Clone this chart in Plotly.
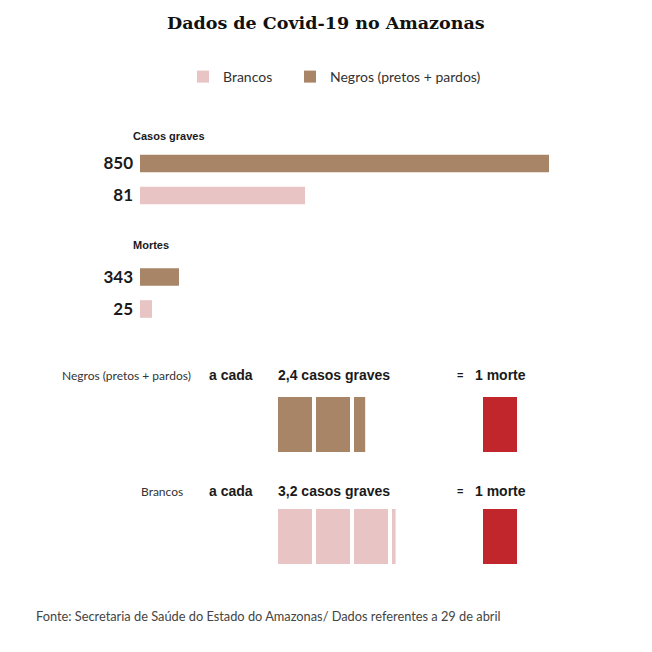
import math
import plotly.graph_objects as go

# page body has an 8px margin: the figure is drawn inside it
OFF = 8
W = H = 636

# ---------------- data ----------------
titulo = "Dados de Covid-19 no Amazonas"
grupos = ["Negros (pretos + pardos)", "Brancos"]
grupos_curto = ["Negros", "Brancos"]
casos_graves = [850, 81]
mortes = [343, 25]
# bar lengths as drawn in the reference graphic (its 81 / 343 bars are swapped)
barra_casos = [850, 343]
barra_mortes = [81, 25]
casos_por_morte = [2.4, 3.2]
casos_por_morte_txt = ["2,4", "3,2"]
mortes_unidade = [1, 1]
fonte = "Fonte: Secretaria de Saúde do Estado do Amazonas/ Dados referentes a 29 de abril"

# ---------------- styles ----------------
BROWN = "#A88566"
PINK = "#E8C4C4"
RED = "#C1262D"
cores = [BROWN, PINK]
SANS = "Lato"
DARK = "#1a1a1a"


def px(x):
    return (x - OFF) / W


def py(y):
    return 1 - (y - OFF) / H


fig = go.Figure()

legendas = ["legend2", "legend"]  # Negros -> right legend, Brancos -> left legend

# top bar charts
for i, g in enumerate(grupos_curto):
    fig.add_trace(go.Bar(
        orientation="h", y=[g], x=[barra_casos[i]], width=0.55,
        marker=dict(color=cores[i], line=dict(width=0)),
        name=grupos[i], showlegend=True, legend=legendas[i],
        xaxis="x", yaxis="y",
        hovertemplate=f"{grupos[i]}<br>Casos graves: {casos_graves[i]}<extra></extra>"))
    fig.add_trace(go.Bar(
        orientation="h", y=[g], x=[barra_mortes[i]], width=0.55,
        marker=dict(color=cores[i], line=dict(width=0)),
        name=grupos[i], showlegend=False,
        xaxis="x2", yaxis="y2",
        hovertemplate=f"{grupos[i]}<br>Mortes: {mortes[i]}<extra></extra>"))

# blocks: cases per death
bx = ["x3", "x4"]
by = ["y3", "y4"]
rx = ["x5", "x6"]
ry = ["y5", "y6"]
for i, g in enumerate(grupos_curto):
    v = casos_por_morte[i]
    n = math.ceil(v)
    unidades = [round(min(1, v - k), 3) for k in range(n)]
    bases = list(range(n))
    fig.add_trace(go.Bar(
        orientation="h", y=[g] * n, x=unidades, base=bases, width=1,
        marker=dict(color=cores[i], line=dict(color="white", width=4)),
        showlegend=False, xaxis=bx[i], yaxis=by[i],
        hovertemplate=f"{grupos[i]}: {casos_por_morte_txt[i]} casos graves<extra></extra>"))
    fig.add_trace(go.Bar(
        orientation="h", y=["morte"], x=[mortes_unidade[i]], base=[0], width=1,
        marker=dict(color=RED, line=dict(color="white", width=4)),
        showlegend=False, xaxis=rx[i], yaxis=ry[i],
        hovertemplate="1 morte<extra></extra>"))

hidden = dict(visible=False, showgrid=False, zeroline=False, fixedrange=True)

xmax = max(barra_casos)
layout_axes = dict(
    xaxis=dict(domain=[px(140), px(549)], range=[0, xmax], anchor="y", **hidden),
    yaxis=dict(domain=[py(211.5), py(147.5)], anchor="x", type="category",
               categoryarray=grupos_curto[::-1], tickmode="array",
               tickvals=grupos_curto, ticktext=[str(v) for v in casos_graves],
               tickfont=dict(family=SANS, size=17, color=DARK, weight="bold"),
               showgrid=False, zeroline=False, showline=False, ticks="",
               ticklabelstandoff=6, fixedrange=True),
    xaxis2=dict(domain=[px(140), px(549)], range=[0, xmax], anchor="y2", **hidden),
    yaxis2=dict(domain=[py(325), py(261)], anchor="x2", type="category",
                categoryarray=grupos_curto[::-1], tickmode="array",
                tickvals=grupos_curto, ticktext=[str(v) for v in mortes],
                tickfont=dict(family=SANS, size=17, color=DARK, weight="bold"),
                showgrid=False, zeroline=False, showline=False, ticks="",
                ticklabelstandoff=6, fixedrange=True),
    xaxis3=dict(domain=[px(276), px(276 + 4 * 38)], range=[0, 4], anchor="y3", **hidden),
    yaxis3=dict(domain=[py(454), py(395)], range=[-0.5, 0.5], anchor="x3", **hidden),
    xaxis4=dict(domain=[px(276), px(276 + 4 * 38)], range=[0, 4], anchor="y4", **hidden),
    yaxis4=dict(domain=[py(566), py(507)], range=[-0.5, 0.5], anchor="x4", **hidden),
    xaxis5=dict(domain=[px(481), px(519)], range=[0, 1], anchor="y5", **hidden),
    yaxis5=dict(domain=[py(454), py(395)], range=[-0.5, 0.5], anchor="x5", **hidden),
    xaxis6=dict(domain=[px(481), px(519)], range=[0, 1], anchor="y6", **hidden),
    yaxis6=dict(domain=[py(566), py(507)], range=[-0.5, 0.5], anchor="x6", **hidden),
)

ann = []


def add_text(text, x, y, size, xanchor="left", weight="normal", color=DARK, family=SANS):
    ann.append(dict(text=text, x=px(x), y=py(y), xref="paper", yref="paper",
                    xanchor=xanchor, yanchor="middle", showarrow=False,
                    font=dict(family=family, size=size, color=color, weight=weight)))


add_text(titulo, 326, 23, 17.5, xanchor="center", weight="bold", color="#111",
         family="DejaVu Serif")
add_text("Casos graves", 131, 136, 11, weight="bold", family="Liberation Sans")
add_text("Mortes", 131, 245, 11, weight="bold", family="Liberation Sans")

linhas_y = [375, 491]
inicio_nome = [60, 139]
for i in range(2):
    yy = linhas_y[i]
    add_text(grupos[i], inicio_nome[i], yy, 12, color="#333", family=SANS)
    add_text("a cada", 207, yy, 14, weight="bold", family="Liberation Sans")
    add_text(f"{casos_por_morte_txt[i]} casos graves", 276, yy, 14, weight="bold",
             family="Liberation Sans")
    add_text("=", 460, yy, 11, xanchor="center", weight="bold", family="Liberation Sans")
    add_text(f"{mortes_unidade[i]} morte", 473, yy, 14, weight="bold",
             family="Liberation Sans")

add_text(fonte, 34, 616, 12.8, color="#444", family=SANS)

leg_style = dict(orientation="h", y=py(77), xanchor="left", yanchor="middle",
                 font=dict(family=SANS, size=14, color="#333"),
                 itemclick=False, itemdoubleclick=False)

fig.update_layout(
    width=W, height=H,
    margin=dict(l=0, r=0, t=0, b=0),
    paper_bgcolor="white", plot_bgcolor="white",
    barmode="overlay",
    showlegend=True,
    legend=dict(x=px(183), **leg_style),
    legend2=dict(x=px(290), **leg_style),
    annotations=ann,
    **layout_axes,
)

fig.write_html("out.html", config={"displayModeBar": False})
